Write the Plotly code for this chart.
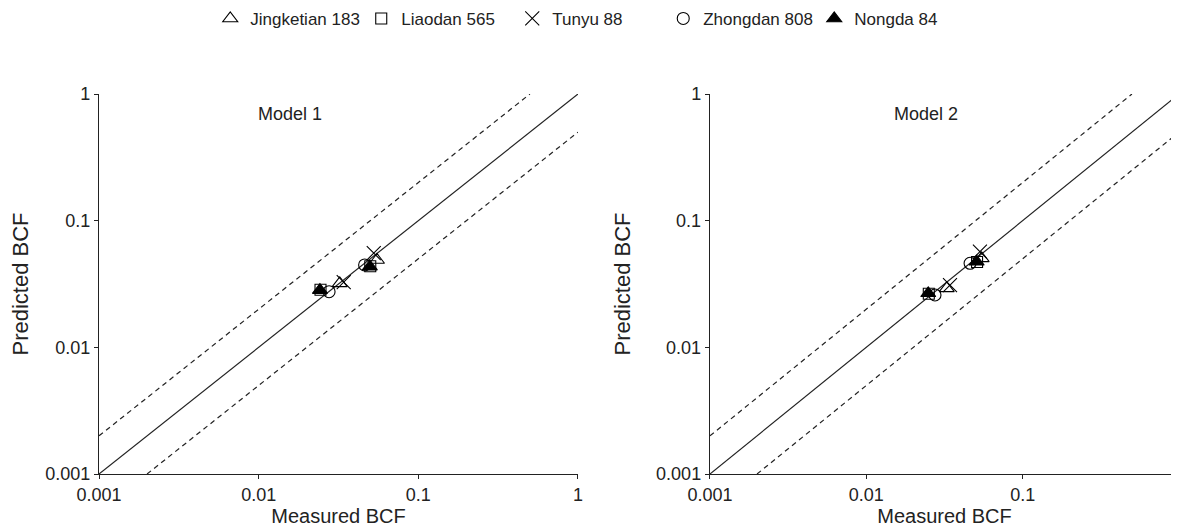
import plotly.graph_objects as go

# ---- data ----
varieties = ["Jingketian 183", "Liaodan 565", "Tunyu 88", "Zhongdan 808", "Nongda 84"]
symbols = ["triangle-up-open", "square-open", "x-thin-open", "circle-open", "triangle-up"]

# Model 1: measured (x) and predicted (y), two samples per variety
m1_measured = {
    "Jingketian 183": [0.0322, 0.0551],
    "Liaodan 565":    [0.0244, 0.0500],
    "Tunyu 88":       [0.0341, 0.0526],
    "Zhongdan 808":   [0.0276, 0.0461],
    "Nongda 84":      [0.0242, 0.0497],
}
m1_predicted = {
    "Jingketian 183": [0.0320, 0.0489],
    "Liaodan 565":    [0.0285, 0.0437],
    "Tunyu 88":       [0.0327, 0.0555],
    "Zhongdan 808":   [0.0275, 0.0447],
    "Nongda 84":      [0.0283, 0.0433],
}
# Model 2
m2_measured = {
    "Jingketian 183": [0.0327, 0.0547],
    "Liaodan 565":    [0.0251, 0.0511],
    "Tunyu 88":       [0.0343, 0.0533],
    "Zhongdan 808":   [0.0275, 0.0461],
    "Nongda 84":      [0.0249, 0.0508],
}
m2_predicted = {
    "Jingketian 183": [0.0292, 0.0504],
    "Liaodan 565":    [0.0265, 0.0472],
    "Tunyu 88":       [0.0310, 0.0569],
    "Zhongdan 808":   [0.0259, 0.0461],
    "Nongda 84":      [0.0267, 0.0474],
}

# reference lines (1:1 and two-fold bounds)
line_1to1_x = [0.001, 1]
line_1to1_y = [0.001, 1]
line_upper_x = [0.001, 0.5]
line_upper_y = [0.002, 1]
line_lower_x = [0.002, 1]
line_lower_y = [0.001, 0.5]

tick_vals = [0.001, 0.01, 0.1, 1]
tick_text = ["0.001", "0.01", "0.1", "1"]

FONT = "Liberation Sans, Arial, sans-serif"
INK = "#222222"

fig = go.Figure()

panels = [("x", "y", m1_measured, m1_predicted, True),
          ("x2", "y2", m2_measured, m2_predicted, False)]

for xa, ya, meas, pred, show in panels:
    for lx, ly, dash in [(line_1to1_x, line_1to1_y, "solid"),
                         (line_upper_x, line_upper_y, "5px,4px"),
                         (line_lower_x, line_lower_y, "5px,4px")]:
        fig.add_trace(go.Scatter(x=lx, y=ly, mode="lines", xaxis=xa, yaxis=ya,
                                 line=dict(color=INK, width=1.2, dash=dash),
                                 showlegend=False, hoverinfo="skip"))
    for v, s in zip(varieties, symbols):
        size = 14 if "x-thin" in s else (11 if "square" in s else (12 if "circle" in s else 13))
        fig.add_trace(go.Scatter(
            x=meas[v], y=pred[v], mode="markers", name=v, xaxis=xa, yaxis=ya,
            showlegend=show,
            marker=dict(symbol=s, size=size, color="black",
                        line=dict(color="black", width=1.1)),
        ))

axis_common = dict(type="log", showgrid=False, zeroline=False, showline=True,
                   linecolor=INK, linewidth=1.4, ticks="outside", ticklen=4,
                   tickcolor=INK, tickwidth=1.2, tickvals=tick_vals, ticktext=tick_text,
                   automargin=False,
                   tickfont=dict(family=FONT, size=18, color=INK),
                   title_font=dict(family=FONT, size=20, color=INK))

ytitle_font = dict(family=FONT, size=22, color=INK)

fig.update_layout(
    width=1179, height=528,
    margin=dict(l=91, r=8, t=86, b=62, autoexpand=False),
    paper_bgcolor="white", plot_bgcolor="white",
    font=dict(family=FONT, color=INK),
    xaxis=dict(axis_common, domain=[0.0, 0.4435], range=[-3, 0],
               anchor="y", title=dict(text="Measured BCF", standoff=0)),
    yaxis=dict(axis_common, domain=[0.0, 1.0], range=[-3, 0],
               anchor="x", title=dict(text="Predicted BCF", standoff=11, font=ytitle_font)),
    xaxis2=dict(axis_common, domain=[0.5657, 1.0], range=[-3, 0],
                anchor="y2", title=dict(text="Measured BCF", standoff=0)),
    yaxis2=dict(axis_common, domain=[0.0, 1.0], range=[-3, 0],
                anchor="x2", title=dict(text="Predicted BCF", standoff=19, font=ytitle_font)),
    legend=dict(orientation="h", x=0.103, y=1.245, xref="paper", yref="paper",
                xanchor="left", yanchor="top",
                font=dict(family=FONT, size=17, color=INK),
                itemwidth=30, entrywidth=106, bgcolor="rgba(0,0,0,0)"),
    showlegend=True,
)

fig.add_annotation(x=-1.804, y=-0.16, xref="x", yref="y", text="Model 1",
                   showarrow=False, font=dict(family=FONT, size=18, color=INK))
fig.add_annotation(x=-1.62, y=-0.16, xref="x2", yref="y2", text="Model 2",
                   showarrow=False, font=dict(family=FONT, size=18, color=INK))

fig.write_html("out.html")
